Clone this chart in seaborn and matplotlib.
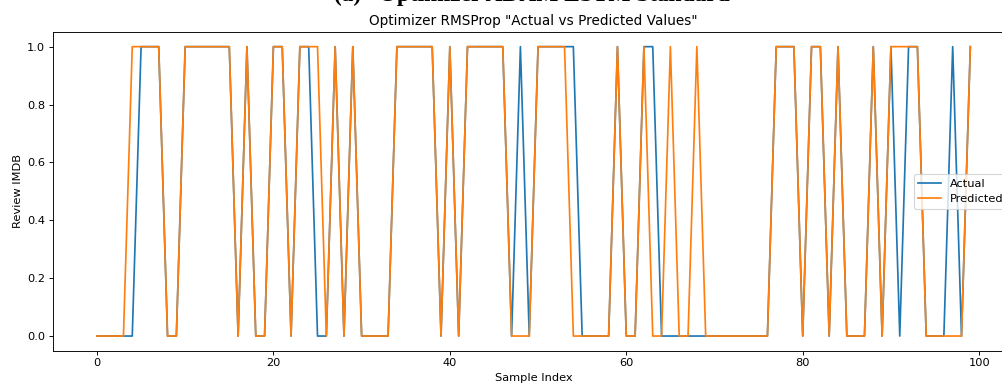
import numpy as np
import pandas as pd
import matplotlib
matplotlib.use("Agg")
import matplotlib.pyplot as plt
import seaborn as sns

sample_index = list(range(100))

actual = [
    0, 0, 0, 0, 0, 1, 1, 1, 0, 0,
    1, 1, 1, 1, 1, 1, 0, 1, 0, 0,
    1, 1, 0, 1, 1, 0, 0, 1, 0, 1,
    0, 0, 0, 0, 1, 1, 1, 1, 1, 0,
    1, 0, 1, 1, 1, 1, 1, 0, 1, 0,
    1, 1, 1, 1, 1, 0, 0, 0, 0, 1,
    0, 0, 1, 1, 0, 0, 0, 0, 0, 0,
    0, 0, 0, 0, 0, 0, 0, 1, 1, 1,
    0, 1, 1, 0, 1, 0, 0, 0, 1, 0,
    1, 0, 1, 1, 0, 0, 0, 1, 0, 1,
]

predicted = [
    0, 0, 0, 0, 1, 1, 1, 1, 0, 0,
    1, 1, 1, 1, 1, 1, 0, 1, 0, 0,
    1, 1, 0, 1, 1, 1, 0, 1, 0, 1,
    0, 0, 0, 0, 1, 1, 1, 1, 1, 0,
    1, 0, 1, 1, 1, 1, 1, 0, 0, 0,
    1, 1, 1, 1, 0, 0, 0, 0, 0, 1,
    0, 0, 1, 0, 0, 1, 0, 0, 1, 0,
    0, 0, 0, 0, 0, 0, 0, 1, 1, 1,
    0, 1, 1, 0, 1, 0, 0, 0, 1, 0,
    1, 1, 1, 1, 0, 0, 0, 0, 0, 1,
]

df = pd.DataFrame({"Sample": sample_index, "Actual": actual, "Predicted": predicted})

fig = plt.figure(figsize=(1002 / 82, 387 / 82), dpi=82)
ax = fig.add_axes([53.3 / 1002, 1 - 350.5 / 387, (1014 - 53.3) / 1002, (350.5 - 32.2) / 387])

sns.lineplot(data=df, x="Sample", y="Actual", ax=ax, label="Actual", color="C0")
sns.lineplot(data=df, x="Sample", y="Predicted", ax=ax, label="Predicted", color="C1")

ax.set_title('Optimizer RMSProp "Actual vs Predicted Values"')
ax.set_xlabel("Sample Index")
ax.set_ylabel("Review IMDB")
ax.legend(loc="center right")

# caption of the parent figure, cut off at the top edge
fig.text(0.531, 1 - 1.5 / 387, "(a)   Optimizer ADAM LSTM Standard",
         ha="center", va="baseline", fontsize=20.5, fontweight="bold",
         family=["Liberation Serif", "DejaVu Serif"])

fig.savefig("out.png", dpi=82)
